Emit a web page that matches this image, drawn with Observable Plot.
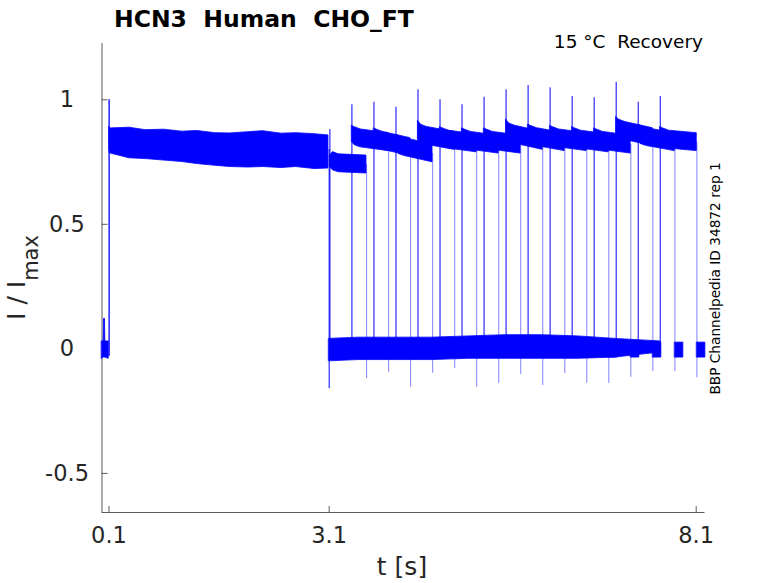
<!DOCTYPE html>
<html><head><meta charset="utf-8">
<script src="https://cdn.jsdelivr.net/npm/d3@7"></script>
<script src="https://cdn.jsdelivr.net/npm/@observablehq/plot@0.6"></script>
<style>
body{margin:0;background:#fff}
svg{font-family:"DejaVu Sans",sans-serif}
</style>
</head><body><div id="chart"></div>
<script>
// ---------- data ----------
const titleText = "HCN3  Human  CHO_FT";
const conditionText = "15 °C  Recovery";
const sideText = "BBP Channelpedia ID 34872 rep 1";
const xLabel = "t [s]";
const xTicks = [0.1, 3.1, 8.1];
const xTickLabels = ["0.1", "3.1", "8.1"];
const yTicks = [-0.5, 0, 0.5, 1];
const yTickLabels = ["-0.5", "0", "0.5", "1"];

// holding segment before activation step (noise envelope)
const preT  = [0.005, 0.028, 0.032, 0.046, 0.05, 0.097];
const preHi = [0.03, 0.03, 0.12, 0.12, 0.03, 0.03];
const preLo = [-0.04, -0.035, -0.035, -0.035, -0.035, -0.04];

// activation step
const stepTime = 0.102, stepLow = -0.03, stepPeak = 1.0;

// activating pulse 0.1 - 3.1 s (envelope of overlaid sweeps)
const actT  = [0.104, 0.11, 0.38, 0.6, 0.85, 1.1, 1.3, 1.55, 1.75, 2.0, 2.2, 2.45, 2.65, 2.9, 3.09];
const actHi = [0.89, 0.885, 0.888, 0.878, 0.88, 0.872, 0.875, 0.866, 0.865, 0.87, 0.874, 0.864, 0.866, 0.862, 0.857];
const actLo = [0.80, 0.785, 0.765, 0.762, 0.756, 0.75, 0.742, 0.735, 0.73, 0.728, 0.73, 0.726, 0.73, 0.722, 0.724];

// deactivation of all sweeps at 3.1 s
const deactTime = 3.1, deactTail = -0.16, deactTop = 0.8;

// baseline between pulses (envelope)
const baseT  = [3.1, 3.5, 4.0, 4.5, 5.0, 5.5, 6.0, 6.5, 7.0, 7.3, 7.61];
const baseHi = [0.04, 0.045, 0.045, 0.045, 0.05, 0.055, 0.055, 0.05, 0.04, 0.035, 0.03];
const baseLo = [-0.05, -0.045, -0.045, -0.045, -0.04, -0.04, -0.04, -0.04, -0.035, -0.025, -0.015];
const baseLevel = -0.02;

// recovery test pulses, one per sweep
const sweepOnset      = [3.11, 3.41, 3.71, 4.01, 4.31, 4.61, 4.91, 5.21, 5.51, 5.81, 6.11, 6.41, 6.71, 7.01, 7.31, 7.61];
const sweepPeak       = [0.88, 0.98, 0.99, 0.97, 1.04, 1.0, 0.98, 1.01, 1.04, 1.057, 1.048, 1.013, 1.008, 1.07, 0.99, 1.013];
const sweepLevelStart = [0.745, 0.845, 0.835, 0.81, 0.855, 0.84, 0.835, 0.835, 0.86, 0.85, 0.845, 0.84, 0.835, 0.875, 0.85, 0.84];
const sweepLevelEnd   = [0.74, 0.83, 0.81, 0.785, 0.835, 0.825, 0.82, 0.82, 0.835, 0.83, 0.83, 0.825, 0.82, 0.85, 0.83, 0.83];
const sweepHump       = [0.03, 0.05, 0.05, 0.05, 0.06, 0.05, 0.05, 0.05, 0.06, 0.05, 0.05, 0.05, 0.05, 0.055, 0.05, 0.05];
const sweepTail       = [-0.12, -0.094, -0.154, -0.098, -0.079, -0.154, -0.139, -0.103, -0.147, -0.099, -0.138, -0.139, -0.114, -0.091, -0.091, -0.116];
const testDuration = 0.5;
const postDuration = 0.115;
const postHi = 0.025, postLo = -0.035;
const noise = 0.036;

// ---------- build tables ----------
const BLUE = "#0000ff";
const preRows  = preT.map((t, i) => ({t, hi: preHi[i], lo: preLo[i]}));
const actRows  = actT.map((t, i) => ({t, hi: actHi[i], lo: actLo[i]}));
const baseRows = baseT.map((t, i) => ({t, hi: baseHi[i], lo: baseLo[i]}));
const sweeps = sweepOnset.map((on, k) => ({
  k, on, off: on + testDuration, peak: sweepPeak[k],
  ls: sweepLevelStart[k], le: sweepLevelEnd[k], hump: sweepHump[k], tail: sweepTail[k]
}));
const sweepRows = sweeps.flatMap(s => [
  {k: s.k, t: s.on + 0.002, hi: s.ls + s.hump, lo: s.ls - 0.015},
  {k: s.k, t: s.on + 0.04,  hi: s.ls + 0.045, lo: s.ls - 0.028},
  {k: s.k, t: s.on + 0.12,  hi: s.ls + noise, lo: s.ls - noise},
  {k: s.k, t: s.off - 0.002, hi: s.le + noise, lo: s.le - noise}
]);
const postRows = sweeps.flatMap(s => [
  {k: s.k, t: s.off + 0.003, hi: postHi, lo: postLo},
  {k: s.k, t: s.off + postDuration, hi: postHi, lo: postLo}
]);

const xDomain = [0.005, 8.22], yDomain = [-0.657, 1.226];
const AX = "#5a5a5a", TXT = "#262626";
const band = (rows, z) => Plot.areaY(rows, {x: "t", y1: "lo", y2: "hi", z, fill: BLUE, stroke: BLUE, strokeWidth: 0.8});

const chart = Plot.plot({
  width: 778, height: 583,
  marginLeft: 101.5, marginRight: 73.5, marginTop: 43, marginBottom: 71,
  x: {domain: xDomain, axis: null},
  y: {domain: yDomain, axis: null},
  style: {fontFamily: "DejaVu Sans", color: TXT, background: "white", overflow: "visible"},
  marks: [
    // axes lines
    Plot.ruleX([xDomain[0]], {stroke: AX, strokeWidth: 1}),
    Plot.ruleY([yDomain[0]], {stroke: AX, strokeWidth: 1}),
    // inward ticks
    Plot.ruleX(xTicks, {x: d => d, y1: yDomain[0], y2: yDomain[0] + 0.024, stroke: AX}),
    Plot.ruleY(yTicks, {y: d => d, x1: xDomain[0], x2: xDomain[0] + 0.082, stroke: AX}),
    // tick labels
    Plot.text(xTicks, {x: d => d, text: (d, i) => xTickLabels[i], frameAnchor: "bottom", dy: 23, fontSize: 22.5, fill: TXT, lineAnchor: "middle"}),
    Plot.text(yTicks, {y: d => d, text: (d, i) => yTickLabels[i], frameAnchor: "left", dx: -35, fontSize: 22.5, fill: TXT, textAnchor: "middle", lineAnchor: "middle"}),
    // traces
    band(preRows),
    Plot.ruleX([stepTime], {x: d => d, y1: stepLow, y2: stepPeak, stroke: BLUE, strokeWidth: 1.3}),
    band(actRows),
    Plot.ruleX([deactTime], {x: d => d, y1: deactTail, y2: deactTop, stroke: BLUE, strokeWidth: 1}),
    band(baseRows),
    band(sweepRows, "k"),
    band(postRows, "k"),
    Plot.ruleX(sweeps, {x: "on", y1: baseLevel, y2: "peak", stroke: BLUE, strokeWidth: 1}),
    Plot.ruleX(sweeps, {x: "off", y1: "tail", y2: "le", stroke: BLUE, strokeWidth: 1, strokeOpacity: 0.5})
  ]
});
document.getElementById("chart").appendChild(chart);

// ---------- texts outside the axes ----------
const svg = d3.select(chart);
svg.append("text").attr("x", 114).attr("y", 26.5).attr("text-anchor", "start")
  .attr("font-size", 23.5).attr("font-weight", "bold").attr("fill", "#000")
  .style("white-space", "pre").text(titleText);
svg.append("text").attr("x", 703).attr("y", 47.5).attr("text-anchor", "end")
  .attr("font-size", 18.5).attr("fill", "#000")
  .style("white-space", "pre").text(conditionText);
svg.append("text").attr("transform", "translate(720,278.5) rotate(-90)")
  .attr("text-anchor", "middle").attr("font-size", 13.7).attr("fill", "#000").text(sideText);
svg.append("text").attr("x", 402).attr("y", 575).attr("text-anchor", "middle")
  .attr("font-size", 25).attr("fill", TXT).text(xLabel);
const yl = svg.append("text").attr("transform", "translate(25,277.5) rotate(-90)")
  .attr("text-anchor", "middle").attr("font-size", 25).attr("fill", TXT)
  .style("white-space", "pre");
yl.append("tspan").text("I / I");
yl.append("tspan").attr("font-size", 21).attr("dy", 13).text("max");
</script>
</body></html>
